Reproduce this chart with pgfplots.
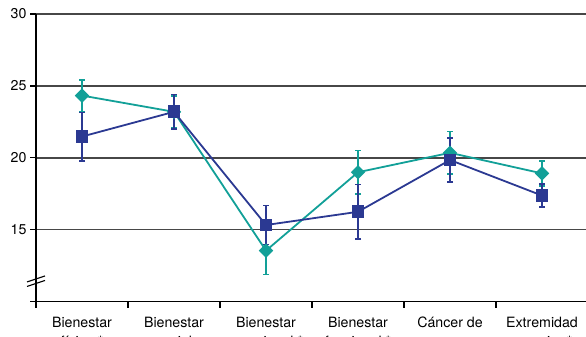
\documentclass[border=0pt]{standalone}
\usepackage{pgfplots}
\pgfplotsset{compat=1.18}
\usepackage{fontspec}
\setmainfont{TeX Gyre Heros}

\definecolor{serieA}{RGB}{43,57,146}
\definecolor{serieB}{RGB}{18,160,152}
\definecolor{rejilla}{gray}{0.28}

\begin{document}
\begin{tikzpicture}
\useasboundingbox (-36pt,-35.3pt) rectangle (550pt,301.7pt);
\clip (-36pt,-35.3pt) rectangle (550pt,301.7pt);
\begin{axis}[
  scale only axis,
  width=552pt, height=287.7pt,
  xmin=-0.5, xmax=5.5,
  ymin=10, ymax=30,
  axis lines*=left,
  axis line style={line width=1.3pt, black},
  font=\fontsize{14.2}{19.5}\selectfont,
  /pgf/number format/assume math mode=true,
  xtick={0,1,2,3,4,5},
  xticklabels={
    {Bienestar\\físico *},
    {Bienestar\\social},
    {Bienestar\\emocional *},
    {Bienestar\\funcional *},
    {Cáncer de\\mama},
    {Extremidad\\superior *}},
  xticklabel style={align=center, anchor=north, yshift=-5.5pt},
  major x tick style={draw=none},
  minor xtick={-0.5,0.5,1.5,2.5,3.5,4.5,5.5},
  minor x tick style={line width=1.3pt, black},
  ytick={10,15,20,25,30},
  yticklabels={,15,20,25,30},
  major y tick style={line width=1.3pt, black},
  tick align=outside,
  major tick length=6pt,
  minor tick length=6pt,
  ymajorgrids,
  major grid style={line width=1.4pt, rejilla},
  clip=false,
]
% Escala interrumpida en el eje vertical
\draw[line width=1.1pt, black] ([xshift=-9pt,yshift=-3pt]axis cs:-0.5,11.58) -- ++(18pt,6pt);
\draw[line width=1.1pt, black] ([xshift=-9pt,yshift=-3pt]axis cs:-0.5,11.27) -- ++(18pt,6pt);

\addplot[serieB, line width=1.8pt, mark=square*, mark size=4.2pt,
  mark options={solid, rotate=45, fill=serieB, draw=serieB},
  error bars/.cd, y dir=both, y explicit,
  error bar style={line width=2pt, serieB},
  error mark options={rotate=90, mark size=3pt, line width=1.6pt, serieB}]
  coordinates {
    (0,24.33) +- (0,1.1)
    (1,23.2)  +- (0,1.1)
    (2,13.55) +- (0,1.65)
    (3,19.0)  +- (0,1.5)
    (4,20.35) +- (0,1.47)
    (5,18.92) +- (0,0.87)
  };

\addplot[serieA, line width=1.8pt, mark=square*, mark size=5.5pt,
  mark options={solid, fill=serieA, draw=serieA},
  error bars/.cd, y dir=both, y explicit,
  error bar style={line width=2pt, serieA},
  error mark options={rotate=90, mark size=3pt, line width=1.6pt, serieA}]
  coordinates {
    (0,21.48) +- (0,1.68)
    (1,23.2)  +- (0,1.2)
    (2,15.33) +- (0,1.35)
    (3,16.25) +- (0,1.9)
    (4,19.85) +- (0,1.52)
    (5,17.38) +- (0,0.8)
  };
\end{axis}
\end{tikzpicture}
\end{document}
